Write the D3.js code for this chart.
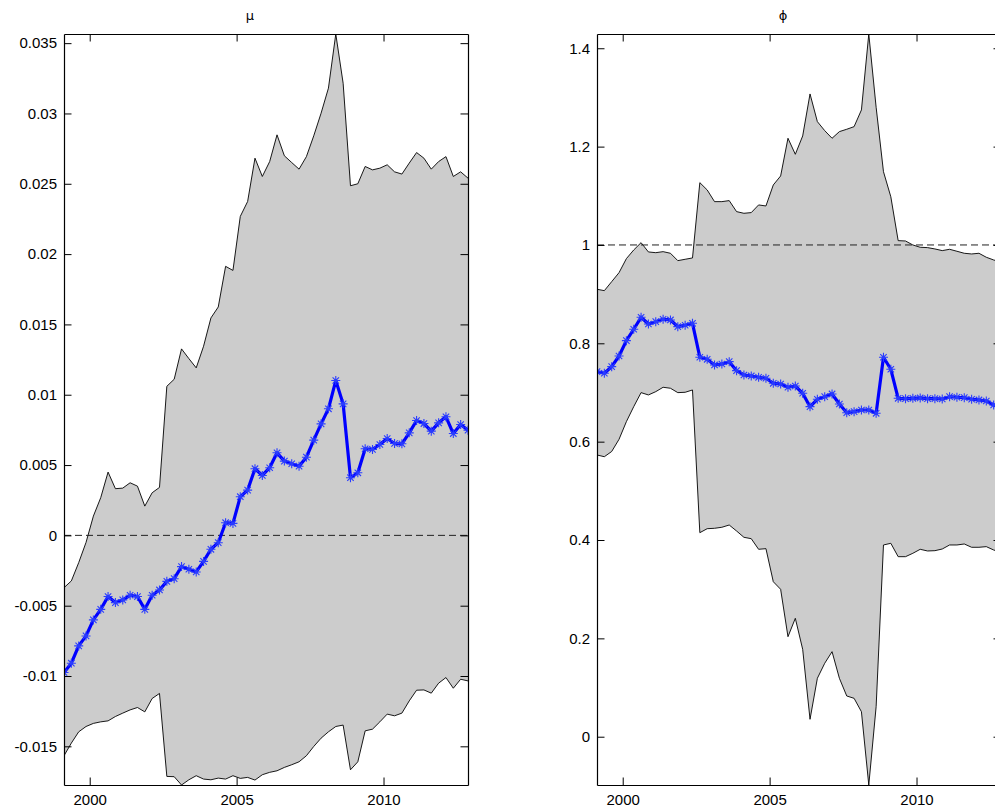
<!DOCTYPE html>
<html>
<head>
<meta charset="utf-8">
<script src="https://cdn.jsdelivr.net/npm/d3@7"></script>
<style>
  body { margin: 0; background: #fff; }
  text { font-family: "Liberation Sans", Arial, Helvetica, sans-serif; }
</style>
</head>
<body>
<svg id="chart"></svg>
<script>
const width = 995;
const height = 811;

// quarterly observations, 1999Q1 .. 2012Q4 (plotted at mid-quarter)
const firstYear = 1999;
const lastYear = 2012;
const dates = [];
for (let y = firstYear; y <= lastYear; y++) {
    for (let q = 1; q <= 4; q++) dates.push(y + (q - 0.5) / 4);
}
const xTicks = [2000, 2005, 2010];

// mu: posterior median and bands
const muMid = [-0.00975, -0.00909, -0.00786, -0.00715, -0.00601, -0.00526, -0.00435, -0.00478, -0.00459, -0.00426,
    -0.00435, -0.00526, -0.00426, -0.00388, -0.00327, -0.00308, -0.00222, -0.00241, -0.00260, -0.00185,
    -0.00099, -0.00052, 0.00090, 0.00085, 0.00275, 0.00322, 0.00474, 0.00426, 0.00481, 0.00587,
    0.00528, 0.00509, 0.00492, 0.00556, 0.00677, 0.00793, 0.00900, 0.01101, 0.00935, 0.00410,
    0.00445, 0.00616, 0.00611, 0.00646, 0.00689, 0.00653, 0.00651, 0.00729, 0.00817, 0.00795,
    0.00741, 0.00800, 0.00843, 0.00724, 0.00788, 0.00748];
const muUpper = [-0.00372, -0.00324, -0.00194, -0.00050, 0.00137, 0.00268, 0.00450, 0.00332, 0.00336, 0.00374,
    0.00350, 0.00208, 0.00303, 0.00341, 0.01060, 0.01110, 0.01326, 0.01257, 0.01191, 0.01345,
    0.01546, 0.01624, 0.01913, 0.01884, 0.02268, 0.02374, 0.02682, 0.02552, 0.02658, 0.02848,
    0.02699, 0.02651, 0.02604, 0.02693, 0.02841, 0.03002, 0.03180, 0.03565, 0.03215, 0.02486,
    0.02500, 0.02623, 0.02599, 0.02611, 0.02635, 0.02585, 0.02569, 0.02647, 0.02722, 0.02682,
    0.02604, 0.02658, 0.02693, 0.02552, 0.02585, 0.02540];
const muLower = [-0.01567, -0.01477, -0.01397, -0.01359, -0.01337, -0.01326, -0.01319, -0.01288, -0.01264, -0.01241,
    -0.01224, -0.01255, -0.01160, -0.01124, -0.01714, -0.01716, -0.01775, -0.01738, -0.01709, -0.01733,
    -0.01738, -0.01726, -0.01733, -0.01709, -0.01728, -0.01721, -0.01740, -0.01702, -0.01685, -0.01674,
    -0.01650, -0.01631, -0.01610, -0.01567, -0.01501, -0.01442, -0.01397, -0.01359, -0.01349, -0.01667,
    -0.01610, -0.01390, -0.01378, -0.01326, -0.01271, -0.01283, -0.01264, -0.01177, -0.01101, -0.01099,
    -0.01122, -0.01051, -0.01011, -0.01087, -0.01023, -0.01035];
const muTicks = [-0.015, -0.01, -0.005, 0, 0.005, 0.01, 0.015, 0.02, 0.025, 0.03, 0.035];

// phi: posterior median and bands
const phiMid = [0.7423, 0.7391, 0.7525, 0.7742, 0.8054, 0.8286, 0.8529, 0.8393, 0.8440, 0.8489,
    0.8475, 0.8339, 0.8367, 0.8407, 0.7716, 0.7675, 0.7560, 0.7580, 0.7627, 0.7444,
    0.7356, 0.7336, 0.7309, 0.7289, 0.7187, 0.7173, 0.7106, 0.7132, 0.6984, 0.6712,
    0.6862, 0.6915, 0.6970, 0.6766, 0.6589, 0.6610, 0.6644, 0.6644, 0.6577, 0.7716,
    0.7472, 0.6882, 0.6874, 0.6882, 0.6889, 0.6874, 0.6874, 0.6868, 0.6915, 0.6903,
    0.6895, 0.6862, 0.6848, 0.6827, 0.6746, 0.6680];
const phiUpper = [0.9099, 0.9071, 0.9254, 0.9437, 0.9722, 0.9898, 1.0047, 0.9858, 0.9843, 0.9864,
    0.9831, 0.9681, 0.9709, 0.9736, 1.1267, 1.1119, 1.0881, 1.0881, 1.0902, 1.0678,
    1.0644, 1.0658, 1.0814, 1.0793, 1.1220, 1.1403, 1.2170, 1.1844, 1.2217, 1.3071,
    1.2508, 1.2325, 1.2170, 1.2305, 1.2353, 1.2406, 1.2746, 1.4290, 1.2800, 1.1490,
    1.0980, 1.0088, 1.0081, 1.0000, 0.9953, 0.9946, 0.9919, 0.9885, 0.9912, 0.9872,
    0.9831, 0.9817, 0.9831, 0.9750, 0.9695, 0.9650];
const phiLower = [0.5729, 0.5694, 0.5800, 0.6048, 0.6407, 0.6712, 0.6997, 0.6950, 0.7017, 0.7106,
    0.7086, 0.6997, 0.7004, 0.7051, 0.4149, 0.4230, 0.4238, 0.4259, 0.4305, 0.4183,
    0.4055, 0.4027, 0.3811, 0.3824, 0.3152, 0.2998, 0.2034, 0.2408, 0.1777, 0.0354,
    0.1188, 0.1493, 0.1729, 0.1188, 0.0828, 0.0781, 0.0508, -0.0982, 0.0610, 0.3899,
    0.3933, 0.3661, 0.3661, 0.3730, 0.3811, 0.3777, 0.3783, 0.3817, 0.3899, 0.3899,
    0.3919, 0.3852, 0.3852, 0.3865, 0.3797, 0.3750];
const phiTicks = [0, 0.2, 0.4, 0.6, 0.8, 1, 1.2, 1.4];

const svg = d3.select('#chart')
    .attr('width', width)
    .attr('height', height);

const panelTop = 34;
const panelH = 751;
const panelW = 404;

// asterisk marker like matlab '*'
const star = 'M-4.5,0H4.5M0,-4.5V4.5M-3.2,-3.2L3.2,3.2M-3.2,3.2L3.2,-3.2';

function drawPanel(id, left, title, mid, upper, lower, yTicks, refValue) {
    const x = d3.scaleLinear()
        .domain(d3.extent(dates))
        .range([0, panelW]);
    const y = d3.scaleLinear()
        .domain([d3.min(lower), d3.max(upper)])
        .range([panelH, 0]);

    const g = svg.append('g')
        .attr('transform', `translate(${left},${panelTop})`);

    g.append('clipPath')
        .attr('id', 'clip_' + id)
        .append('rect')
        .attr('width', panelW)
        .attr('height', panelH);

    const plot = g.append('g')
        .attr('clip-path', `url(#clip_${id})`);

    const rows = dates.map((d, i) => ({ t: d, m: mid[i], hi: upper[i], lo: lower[i] }));

    // shaded band
    plot.append('path')
        .datum(rows)
        .attr('fill', '#cccccc')
        .attr('d', d3.area()
            .x(d => x(d.t))
            .y0(d => y(d.lo))
            .y1(d => y(d.hi)));

    ['hi', 'lo'].forEach(k => {
        plot.append('path')
            .datum(rows)
            .attr('fill', 'none')
            .attr('stroke', '#000')
            .attr('stroke-width', 0.9)
            .attr('d', d3.line().x(d => x(d.t)).y(d => y(d[k])));
    });

    // reference level
    plot.append('line')
        .attr('x1', 0)
        .attr('x2', panelW)
        .attr('y1', y(refValue))
        .attr('y2', y(refValue))
        .attr('stroke', '#222')
        .attr('stroke-width', 1)
        .attr('stroke-dasharray', '7,4');

    plot.append('path')
        .datum(rows)
        .attr('fill', 'none')
        .attr('stroke', '#0000ff')
        .attr('stroke-width', 3.2)
        .attr('stroke-linejoin', 'round')
        .attr('d', d3.line().x(d => x(d.t)).y(d => y(d.m)));

    plot.append('g')
        .selectAll('path')
        .data(rows)
        .enter().append('path')
        .attr('transform', d => `translate(${x(d.t)},${y(d.m)})`)
        .attr('d', star)
        .attr('fill', 'none')
        .attr('stroke', '#2a3cff')
        .attr('stroke-width', 1.1);

    const fmt = d => String(d);

    // axes, ticks pointing inward on all four sides
    const axes = [
        { a: d3.axisBottom(x).tickValues(xTicks).tickFormat(fmt), tr: `translate(0,${panelH})`, bottom: true },
        { a: d3.axisTop(x).tickValues(xTicks).tickFormat(''), tr: 'translate(0,0)' },
        { a: d3.axisLeft(y).tickValues(yTicks).tickFormat(fmt), tr: 'translate(0,0)' },
        { a: d3.axisRight(y).tickValues(yTicks).tickFormat(''), tr: `translate(${panelW},0)` }
    ];
    axes.forEach(o => {
        const ax = g.append('g')
            .attr('transform', o.tr)
            .call(o.a.tickSizeInner(-7.5).tickSizeOuter(0).tickPadding(7));
        ax.select('.domain').attr('stroke', '#000').attr('stroke-width', 1.2);
        ax.selectAll('.tick line').attr('stroke', '#000').attr('stroke-width', 1);
        ax.selectAll('text')
            .attr('fill', '#000')
            .style('font-size', '15px');
        if (o.bottom) ax.selectAll('text').attr('y', 9);
    });

    g.append('text')
        .attr('x', panelW / 2 - 16)
        .attr('y', -14)
        .attr('text-anchor', 'middle')
        .attr('fill', '#000')
        .style('font-family', '"DejaVu Sans", "Liberation Sans", sans-serif')
        .style('font-size', '13px')
        .text(title);
}

drawPanel('mu', 64, 'μ', muMid, muUpper, muLower, muTicks, 0);
drawPanel('phi', 597, 'ϕ', phiMid, phiUpper, phiLower, phiTicks, 1);
</script>
</body>
</html>
